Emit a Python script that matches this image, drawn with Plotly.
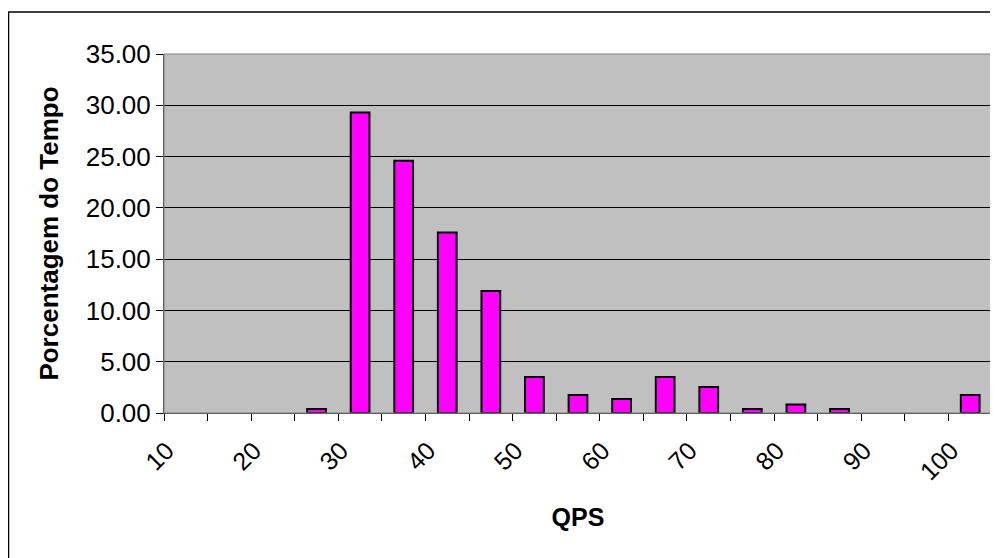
import plotly.graph_objects as go

# Data
categories = ["10", "15", "20", "25", "30", "35", "40", "45", "50", "55",
              "60", "65", "70", "75", "80", "85", "90", "95", "100"]
values = [0.0, 0.0, 0.0, 0.39, 29.3, 24.6, 17.6, 11.9, 3.5, 1.75,
          1.36, 3.5, 2.53, 0.39, 0.82, 0.39, 0.0, 0.0, 1.75]
tick_labels = [c if i % 2 == 0 else "" for i, c in enumerate(categories)]
y_ticks = [0, 5, 10, 15, 20, 25, 30, 35]

FONT = "Liberation Sans, Arial, sans-serif"

fig = go.Figure()
fig.add_trace(go.Bar(
    x=categories, y=[v if v > 0 else None for v in values],
    marker=dict(color="#FF00FF", line=dict(color="black", width=2)),
    hoverinfo="x+y",
))

# page body has an 8px default margin, so the figure is 990x550
W, H = 990, 550
L, R, T, B = 156, 6, 46, 145
pw, ph = W - L - R, H - T - B

fig.update_layout(
    width=W, height=H,
    margin=dict(l=L, r=R, t=T, b=B, autoexpand=False),
    paper_bgcolor="white",
    plot_bgcolor="#C0C0C0",
    bargap=0.57,
    showlegend=False,
    font=dict(family=FONT, size=25, color="black"),
    xaxis=dict(
        type="category",
        tickmode="array", tickvals=categories, ticktext=tick_labels,
        tickson="boundaries",
        ticks="outside", ticklen=7, tickcolor="black", tickwidth=1,
        tickangle=-45,
        ticklabelstandoff=12, ticklabelshift=-19,
        tickfont=dict(family=FONT, size=25),
        showline=True, linecolor="#404040", linewidth=1,
        showgrid=False, zeroline=False,
        title=dict(text="<b>QPS</b>", font=dict(family=FONT, size=25), standoff=24),
        automargin=False,
    ),
    yaxis=dict(
        range=[0, 35],
        tickmode="array", tickvals=y_ticks,
        tickformat=".2f",
        ticks="outside", ticklen=7, tickcolor="black", tickwidth=1,
        tickfont=dict(family=FONT, size=26),
        showline=True, linecolor="#404040", linewidth=1,
        showgrid=True, gridcolor="black", gridwidth=1,
        zeroline=False,
        title=dict(text="<b>Porcentagem do Tempo</b>", font=dict(family=FONT, size=26), standoff=19),
        automargin=False,
    ),
)

# plot-area border (gray) and outer chart border
fig.add_shape(type="rect", xref="paper", yref="paper", x0=0, y0=0, x1=1, y1=1,
              line=dict(color="#808080", width=1), layer="above")
fig.add_shape(type="rect", xref="paper", yref="paper",
              x0=(0.5 - L) / pw, x1=(W + 4 - L) / pw,
              y0=1 - (H + 4 - T) / ph, y1=1 - (4 - T) / ph,
              line=dict(color="black", width=1.5), layer="above")

fig.write_html("out.html")
